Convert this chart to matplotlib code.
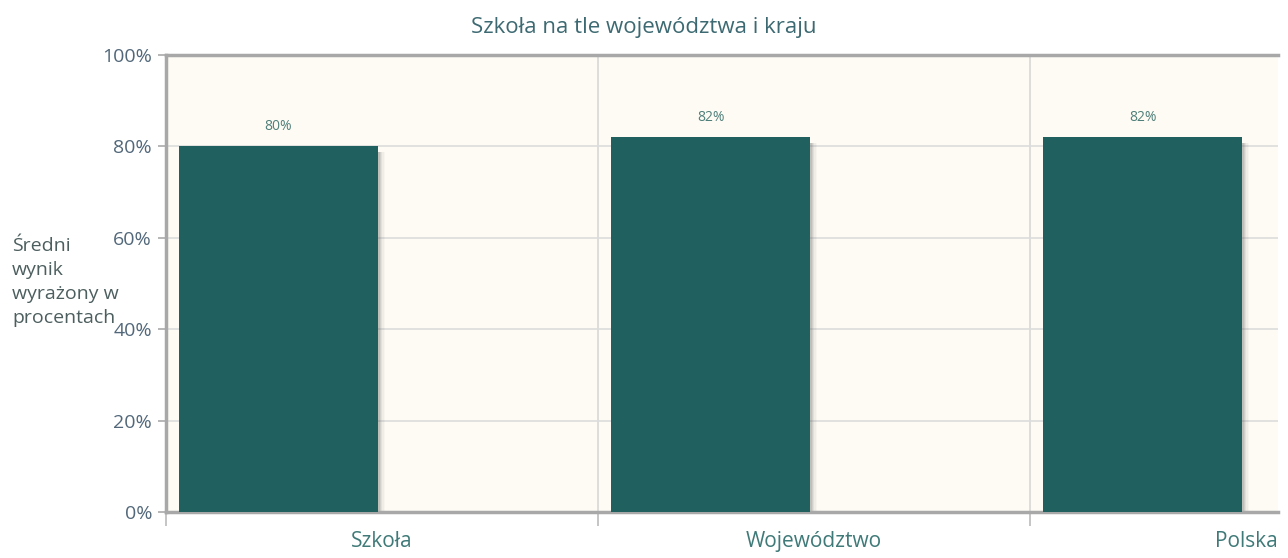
import matplotlib.pyplot as plt
import matplotlib.ticker as mticker
from matplotlib import font_manager

categories = ["Szkoła", "Województwo", "Polska"]
values = [80, 82, 82]
value_labels = ["80%", "82%", "82%"]
y_ticks = [0, 20, 40, 60, 80, 100]

names = {f.name for f in font_manager.fontManager.ttflist}
fam = [n for n in ["Liberation Sans Narrow", "Open Sans", "DejaVu Sans"] if n in names]
plt.rcParams["font.family"] = fam

fig = plt.figure(figsize=(12.88, 5.58), dpi=100)
ax = fig.add_axes([166 / 1288, 1 - 512 / 558, (1278 - 166) / 1288, (512 - 55) / 558])
ax.set_facecolor("#fdfbf3")

bar_color = "#20605e"
left = [i + 0.03 for i in range(len(categories))]
width = 0.461

# shadow
for k, a in enumerate([0.14, 0.11, 0.08, 0.05, 0.03]):
    ax.bar([l + 0.004 + k * 0.003 for l in left], [v - 0.4 for v in values], width=width,
           bottom=-0.8, align="edge", color="#555555", alpha=a, zorder=2, linewidth=0)
ax.bar(left, values, width=width, align="edge", color=bar_color, zorder=3, linewidth=0)

for l, v, t in zip(left, values, value_labels):
    ax.annotate(t, (l + width / 2, v), xytext=(0, 14), textcoords="offset points",
                ha="center", va="center", fontsize=10, color="#4f7f7a")

ax.set_xlim(0, (1278 - 166) / 432)
ax.set_ylim(0, 100)
ax.set_yticks(y_ticks)
ax.yaxis.set_major_formatter(mticker.FuncFormatter(lambda v, p: f"{v:.0f}%"))
ax.set_xticks([0.5, 1.5, 2.5])
ax.set_xticklabels(categories)
ax.set_xticks([0, 1, 2], minor=True)

ax.grid(axis="y", color="#dcdcdc", linewidth=1.2, zorder=1)
ax.grid(axis="x", which="minor", color="#d8d8d8", linewidth=1.2, zorder=1)
ax.set_axisbelow(True)

ax.tick_params(axis="y", length=6, width=1.2, color="#aaaaaa", labelsize=14,
               labelcolor="#52687a", pad=4)
ax.tick_params(axis="x", which="major", length=0, labelsize=15, labelcolor="#3f7a78", pad=14)
ax.tick_params(axis="x", which="minor", length=10, width=1.2, color="#bbbbbb")

for s in ["top", "left", "bottom"]:
    ax.spines[s].set_color("#a8a8a8")
    ax.spines[s].set_linewidth(2.5)
ax.spines["right"].set_visible(False)

fig.text(0.5, 1 - 28 / 558, "Szkoła na tle województwa i kraju", ha="center", va="center",
         fontsize=16, color="#3d6a72")
fig.text(12 / 1288, 1 - 282 / 558, "Średni\nwynik\nwyrażony w\nprocentach", ha="left",
         va="center", fontsize=14, color="#4d5e5e", linespacing=1.45)

fig.savefig("out.png", dpi=100)
